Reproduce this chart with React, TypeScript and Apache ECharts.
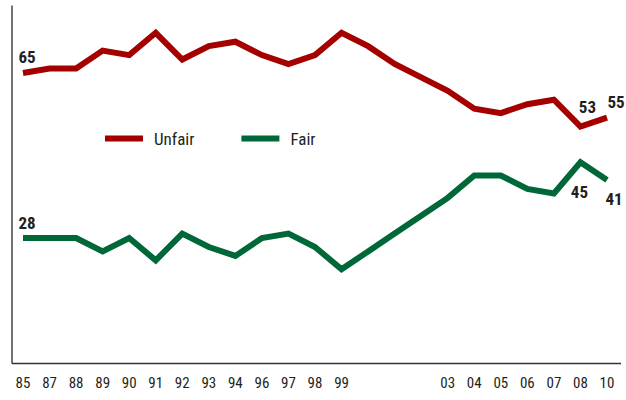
import React, { useEffect, useRef } from "react";
import * as echarts from "echarts";

const categories = ["85", "87", "88", "89", "90", "91", "92", "93", "94", "96", "97", "98", "99", "00", "01", "02", "03", "04", "05", "06", "07", "08", "10"];
const hiddenTickLabels = ["00", "01", "02"];
const unfair = [65, 66, 66, 70, 69, 74, 68, 71, 72, 69, 67, 69, 74, 71, 67, 64, 61, 57, 56, 58, 59, 53, 55];
const fair = [28, 28, 28, 25, 28, 23, 29, 26, 24, 28, 29, 26, 21, 25, 29, 33, 37, 42, 42, 39, 38, 45, 41];

const FONT = "'Roboto Condensed', 'Liberation Sans Narrow', Roboto, sans-serif";
const TXT = "#231f20";
const RED = "#a50000";
const GREEN = "#006838";

const lbl = (position: string, offset: number[]) => ({
  show: true,
  position,
  offset,
  fontFamily: FONT,
  fontWeight: "bold",
  fontSize: 17,
  color: TXT,
});

export default function App() {
  const ref = useRef<HTMLDivElement>(null);
  useEffect(() => {
    if (!ref.current) return;
    const chart = echarts.init(ref.current, null, { renderer: "svg" });
    const last = categories.length - 1;
    const unfairData = unfair.map((v, i) => {
      if (i === 0) return { value: v, label: lbl("top", [4, -2]) };
      if (i === last - 1) return { value: v, label: lbl("top", [7, -6]) };
      if (i === last) return { value: v, label: lbl("top", [9, -2]) };
      return v;
    });
    const fairData = fair.map((v, i) => {
      if (i === 0) return { value: v, label: lbl("top", [4, -2]) };
      if (i === last - 1) return { value: v, label: lbl("bottom", [-1, 16]) };
      if (i === last) return { value: v, label: lbl("bottom", [7, 5]) };
      return v;
    });
    chart.setOption({
      animation: false,
      backgroundColor: "#ffffff",
      grid: { left: 23, right: 19, top: 6, bottom: 37 },
      legend: {
        left: 105,
        top: 130,
        padding: 0,
        icon: "rect",
        itemWidth: 38,
        itemHeight: 6,
        itemGap: 47,
        textStyle: { fontFamily: FONT, fontSize: 17, color: TXT, padding: [0, 0, 0, 6] },
        data: ["Unfair", "Fair"],
      },
      xAxis: {
        type: "category",
        data: categories,
        boundaryGap: false,
        axisLine: { show: false },
        axisTick: { show: false },
        axisLabel: {
          interval: 0,
          margin: 12,
          fontFamily: FONT,
          fontSize: 15,
          color: TXT,
          formatter: (v: string) => (hiddenTickLabels.includes(v) ? "" : v),
        },
        splitLine: { show: false },
      },
      yAxis: {
        type: "value",
        min: 0,
        max: 80,
        offset: 11,
        axisLine: { show: true, lineStyle: { color: "#444", width: 1.5 } },
        axisTick: { show: false },
        axisLabel: { show: false },
        splitLine: { show: false },
      },
      graphic: [
        {
          type: "line",
          shape: { x1: 12, y1: 363.5, x2: 621, y2: 363.5 },
          style: { stroke: "#333", lineWidth: 1.5 },
        },
      ],
      series: [
        {
          name: "Unfair",
          type: "line",
          data: unfairData,
          showSymbol: true,
          symbol: "circle",
          symbolSize: 0.1,
          lineStyle: { color: RED, width: 6, join: "miter" },
          itemStyle: { color: RED },
        },
        {
          name: "Fair",
          type: "line",
          data: fairData,
          showSymbol: true,
          symbol: "circle",
          symbolSize: 0.1,
          lineStyle: { color: GREEN, width: 6, join: "miter" },
          itemStyle: { color: GREEN },
        },
      ],
    });
    return () => chart.dispose();
  }, []);
  return <div ref={ref} style={{ width: 626, height: 400, position: "absolute", left: 0, top: 0 }} />;
}
